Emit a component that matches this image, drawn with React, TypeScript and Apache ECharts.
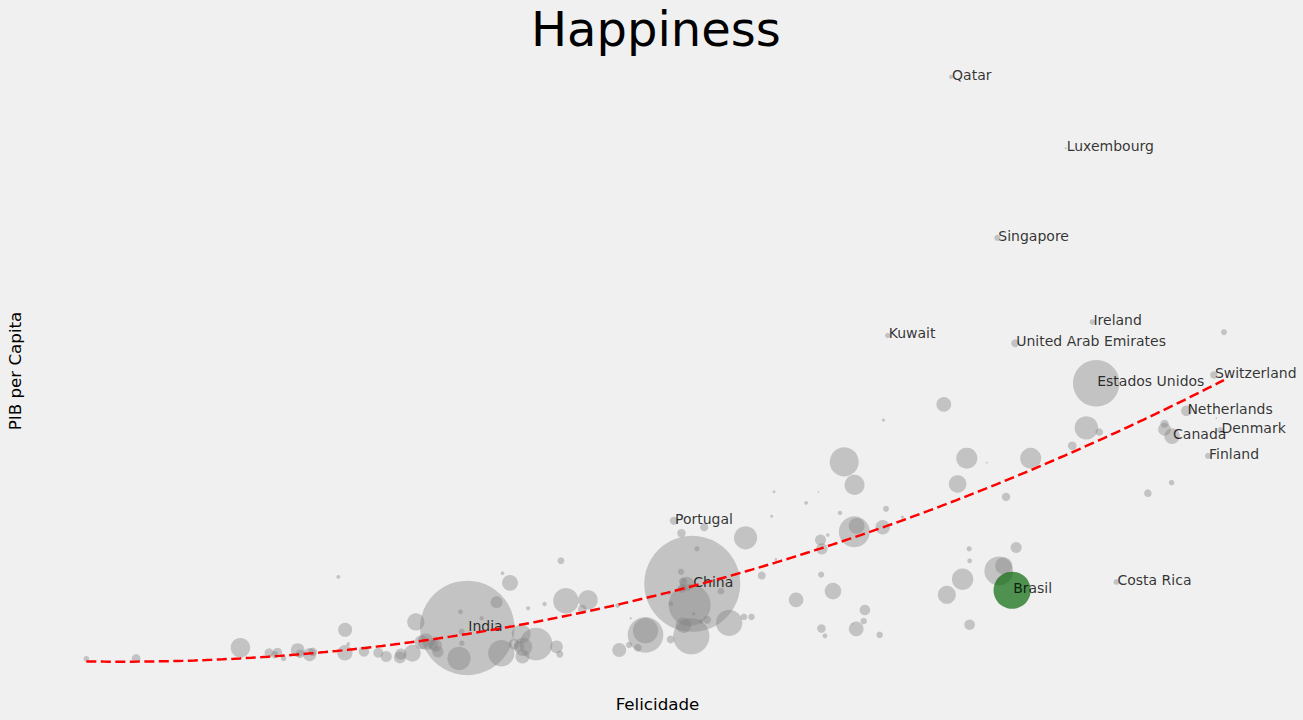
import React, { useEffect, useRef } from "react";
import * as echarts from "echarts";

// World Happiness 2017: happiness score, GDP per capita (PPP, thousand int. $), population (millions)
const countries = [
  "Norway", "Denmark", "Iceland", "Switzerland", "Finland", "Netherlands", "Canada", "New Zealand", "Australia", "Sweden",
  "Israel", "Costa Rica", "Austria", "Estados Unidos", "Ireland", "Germany", "Belgium", "Luxembourg", "United Kingdom", "Chile",
  "United Arab Emirates", "Brasil", "Czech Republic", "Argentina", "Mexico", "Singapore", "Malta", "Uruguay", "Guatemala", "Panama",
  "France", "Thailand", "Spain", "Qatar", "Colombia", "Saudi Arabia", "Trinidad and Tobago", "Kuwait", "Slovakia", "Bahrain",
  "Malaysia", "Nicaragua", "Ecuador", "El Salvador", "Poland", "Uzbekistan", "Italy", "Russia", "Belize", "Japan",
  "Lithuania", "Algeria", "Latvia", "Moldova", "Romania", "Bolivia", "Turkmenistan", "Kazakhstan", "North Cyprus", "Slovenia",
  "Peru", "Mauritius", "Cyprus", "Estonia", "Belarus", "Libya", "Turkey", "Paraguay", "Philippines", "Serbia",
  "Jordan", "Hungary", "Jamaica", "Croatia", "Kosovo", "China", "Pakistan", "Indonesia", "Venezuela", "Montenegro",
  "Morocco", "Azerbaijan", "Dominican Republic", "Greece", "Lebanon", "Portugal", "Bosnia and Herzegovina", "Honduras", "Macedonia", "Vietnam",
  "Nigeria", "Tajikistan", "Bhutan", "Kyrgyzstan", "Nepal", "Mongolia", "South Africa", "Tunisia", "Egypt", "Bulgaria",
  "Sierra Leone", "Cameroon", "Albania", "Bangladesh", "Namibia", "Kenya", "Mozambique", "Myanmar", "Senegal", "Zambia",
  "Iraq", "Gabon", "Ethiopia", "Sri Lanka", "Armenia", "India", "Mauritania", "Congo (Brazzaville)", "Georgia", "Congo (Kinshasa)",
  "Mali", "Ivory Coast", "Cambodia", "Sudan", "Ghana", "Ukraine", "Uganda", "Burkina Faso", "Niger", "Malawi",
  "Chad", "Zimbabwe", "Lesotho", "Angola", "Afghanistan", "Botswana", "Benin", "Madagascar", "Haiti", "Yemen",
  "Liberia", "Guinea", "Togo", "Rwanda", "Tanzania", "Burundi", "Central African Republic",
];

const happiness = [
  7.537, 7.522, 7.504, 7.494, 7.469, 7.377, 7.316, 7.314, 7.284, 7.284,
  7.213, 7.079, 7.006, 6.993, 6.977, 6.951, 6.891, 6.863, 6.714, 6.652,
  6.648, 6.635, 6.609, 6.599, 6.578, 6.572, 6.527, 6.454, 6.454, 6.452,
  6.442, 6.424, 6.403, 6.375, 6.357, 6.344, 6.168, 6.105, 6.098, 6.087,
  6.084, 6.071, 6.008, 6.003, 5.973, 5.971, 5.964, 5.963, 5.956, 5.92,
  5.902, 5.872, 5.85, 5.838, 5.825, 5.823, 5.822, 5.819, 5.81, 5.758,
  5.715, 5.629, 5.621, 5.611, 5.569, 5.525, 5.5, 5.493, 5.43, 5.395,
  5.336, 5.324, 5.311, 5.293, 5.279, 5.273, 5.269, 5.262, 5.25, 5.237,
  5.235, 5.234, 5.23, 5.227, 5.225, 5.195, 5.182, 5.181, 5.175, 5.074,
  5.074, 5.041, 5.011, 5.004, 4.962, 4.955, 4.829, 4.805, 4.735, 4.714,
  4.709, 4.695, 4.644, 4.608, 4.574, 4.553, 4.55, 4.545, 4.535, 4.514,
  4.497, 4.465, 4.46, 4.44, 4.376, 4.315, 4.292, 4.291, 4.286, 4.28,
  4.19, 4.18, 4.168, 4.139, 4.12, 4.096, 4.081, 4.032, 4.028, 3.97,
  3.936, 3.875, 3.808, 3.795, 3.794, 3.766, 3.657, 3.644, 3.603, 3.593,
  3.533, 3.507, 3.495, 3.471, 3.349, 2.905, 2.693,
];

const gdpPerCapita = [
  71.7, 50.4, 53.0, 62.4, 44.8, 54.6, 49.1, 39.0, 50.6, 51.8,
  36.7, 17.4, 50.0, 60.6, 73.9, 50.9, 47.0, 111.7, 44.3, 24.9,
  69.3, 15.6, 35.9, 20.9, 19.8, 92.2, 43.3, 22.0, 8.1, 24.6,
  44.3, 18.0, 38.7, 127.2, 14.6, 56.0, 31.5, 71.0, 33.3, 52.6,
  29.3, 5.9, 11.3, 8.9, 29.6, 7.2, 38.5, 28.3, 8.3, 43.5,
  32.4, 15.4, 27.6, 5.7, 24.6, 7.3, 19.0, 26.5, 37.0, 34.6,
  13.5, 22.3, 37.0, 31.7, 18.8, 9.8, 27.0, 9.8, 8.5, 15.4,
  9.2, 29.3, 8.8, 24.6, 10.5, 17.0, 5.6, 12.4, 17.0, 17.8,
  8.0, 17.5, 16.0, 28.0, 19.6, 30.7, 12.7, 4.9, 15.0, 6.8,
  5.9, 3.1, 9.5, 3.7, 2.6, 12.3, 13.5, 11.5, 13.3, 22.0,
  1.7, 3.3, 12.6, 3.9, 11.7, 3.3, 1.2, 6.1, 3.4, 3.9,
  17.2, 19.3, 1.9, 13.0, 9.5, 7.4, 4.1, 6.6, 10.9, 0.8,
  2.2, 3.6, 3.8, 4.4, 4.3, 8.7, 1.9, 1.7, 1.0, 1.2,
  2.0, 2.3, 3.9, 7.0, 2.0, 18.5, 2.2, 1.6, 1.8, 2.6,
  0.8, 2.1, 1.6, 2.0, 3.1, 0.8, 0.7,
];

const population = [
  5.28, 5.76, 0.34, 8.45, 5.51, 17.13, 36.54, 4.79, 24.6, 10.06,
  8.71, 4.95, 8.8, 325.1, 4.81, 82.66, 11.37, 0.6, 66.06, 18.47,
  9.49, 207.8, 10.59, 44.04, 124.8, 5.61, 0.47, 3.46, 16.91, 4.1,
  66.9, 69.2, 46.6, 2.64, 48.9, 33.1, 1.37, 4.1, 5.44, 1.49,
  31.6, 6.38, 16.8, 6.39, 37.97, 32.4, 60.5, 144.5, 0.37, 126.8,
  2.83, 41.3, 1.94, 3.55, 19.6, 11.05, 5.76, 18.04, 0.33, 2.07,
  32.17, 1.26, 1.18, 1.32, 9.5, 6.37, 80.7, 6.87, 105.0, 7.02,
  9.7, 9.78, 2.89, 4.13, 1.83, 1386, 197, 264, 29.4, 0.62,
  35.7, 9.85, 10.77, 10.75, 6.08, 10.3, 3.5, 9.27, 2.08, 95.5,
  190.9, 8.92, 0.81, 6.2, 29.3, 3.08, 56.7, 11.53, 97.6, 7.08,
  7.49, 24.05, 2.87, 159.7, 2.53, 49.7, 29.7, 53.4, 15.85, 17.1,
  38.3, 2.03, 104.96, 21.4, 2.93, 1339, 4.42, 5.26, 3.72, 81.3,
  18.5, 24.3, 16.0, 40.5, 28.8, 44.8, 42.9, 19.2, 21.5, 18.6,
  14.9, 16.5, 2.23, 29.8, 35.5, 2.29, 11.2, 25.6, 10.98, 28.25,
  4.73, 12.7, 7.8, 12.2, 57.3, 10.86, 4.66,
];

const labeledCountries = [
  "Qatar", "Luxembourg", "Singapore", "Kuwait", "Ireland", "United Arab Emirates", "Estados Unidos",
  "Switzerland", "Netherlands", "Denmark", "Canada", "Finland", "Portugal", "China", "India", "Brasil", "Costa Rica",
];
const highlightCountry = "Brasil";

const FONT = "DejaVu Sans";

function quadraticFit(xs: number[], ys: number[]): number[] {
  // least squares y = a x^2 + b x + c
  const s = [0, 0, 0, 0, 0];
  const t = [0, 0, 0];
  for (let i = 0; i < xs.length; i++) {
    const x = xs[i];
    let p = 1;
    for (let k = 0; k < 5; k++) {
      s[k] += p;
      if (k < 3) t[k] += p * ys[i];
      p *= x;
    }
  }
  const m = [
    [s[0], s[1], s[2], t[0]],
    [s[1], s[2], s[3], t[1]],
    [s[2], s[3], s[4], t[2]],
  ];
  for (let i = 0; i < 3; i++) {
    for (let j = i + 1; j < 3; j++) {
      const f = m[j][i] / m[i][i];
      for (let k = i; k < 4; k++) m[j][k] -= f * m[i][k];
    }
  }
  const r = [0, 0, 0];
  for (let i = 2; i >= 0; i--) {
    let v = m[i][3];
    for (let k = i + 1; k < 3; k++) v -= m[i][k] * r[k];
    r[i] = v / m[i][i];
  }
  return r; // [c, b, a]
}

export default function App() {
  const ref = useRef<HTMLDivElement>(null);

  useEffect(() => {
    if (!ref.current) return;
    const chart = echarts.init(ref.current, null, { renderer: "svg" });

    const labelStyle = {
      show: true,
      formatter: "{b}",
      position: "inside",
      align: "left",
      verticalAlign: "middle",
      offset: [1, -2.2],
      color: "#000",
      textBorderWidth: 0,
      textShadowBlur: 0,
      fontFamily: FONT,
      fontSize: 14,
    };

    const grayData: any[] = [];
    const greenData: any[] = [];
    countries.forEach((name, i) => {
      const item: any = { name, value: [happiness[i], gdpPerCapita[i], population[i]] };
      if (labeledCountries.includes(name)) item.label = labelStyle;
      if (name === highlightCountry) greenData.push(item);
      else grayData.push(item);
    });

    const [c0, c1, c2] = quadraticFit(happiness, gdpPerCapita);
    const hMin = Math.min(...happiness);
    const hMax = Math.max(...happiness);
    const trend: number[][] = [];
    const steps = 200;
    for (let i = 0; i <= steps; i++) {
      const h = hMin + ((hMax - hMin) * i) / steps;
      trend.push([h, c0 + c1 * h + c2 * h * h]);
    }

    const sizeFn = (v: number[]) => Math.max(2.58 * Math.sqrt(v[2]), 1.5);

    chart.setOption({
      animation: false,
      backgroundColor: "#f0f0f0",
      textStyle: { fontFamily: FONT },
      title: {
        text: "Happiness",
        left: 526,
        top: 0,
        textStyle: { fontFamily: FONT, fontSize: 48, fontWeight: "normal", color: "#000" },
      },
      grid: { left: 41, top: 18, width: 1233, height: 644, containLabel: false },
      xAxis: {
        type: "value",
        min: 2.5,
        max: 7.75,
        name: "Felicidade",
        nameLocation: "middle",
        nameGap: 33,
        nameTextStyle: { fontFamily: FONT, fontSize: 16.7, color: "#000" },
        axisLine: { show: false },
        axisTick: { show: false },
        axisLabel: { show: false },
        splitLine: { show: false },
      },
      yAxis: {
        type: "value",
        min: 0,
        max: 140,
        axisLine: { show: false },
        axisTick: { show: false },
        axisLabel: { show: false },
        splitLine: { show: false },
      },
      graphic: [
        {
          type: "text",
          x: 15,
          y: 371,
          rotation: Math.PI / 2,
          style: {
            text: "PIB per Capita",
            fontFamily: FONT,
            fontSize: 16.7,
            fill: "#000",
            align: "center",
            verticalAlign: "middle",
          },
        },
      ],
      series: [
        {
          type: "scatter",
          name: "Países",
          data: grayData,
          symbol: "circle",
          symbolSize: sizeFn,
          clip: false,
          silent: true,
          itemStyle: { color: "rgba(128,128,128,0.5)" },
          label: { show: false },
        },
        {
          type: "line",
          name: "Tendência",
          data: trend,
          showSymbol: false,
          smooth: false,
          silent: true,
          clip: false,
          lineStyle: { color: "#ff0000", width: 2.5, type: [10, 4.5] },
        },
        {
          type: "scatter",
          name: highlightCountry,
          data: greenData,
          symbol: "circle",
          symbolSize: sizeFn,
          clip: false,
          silent: true,
          itemStyle: { color: "rgba(0,100,0,0.84)" },
        },
      ],
    });

    return () => chart.dispose();
  }, []);

  return (
    <div
      ref={ref}
      style={{ position: "absolute", left: 0, top: 0, width: 1303, height: 720 }}
    />
  );
}
